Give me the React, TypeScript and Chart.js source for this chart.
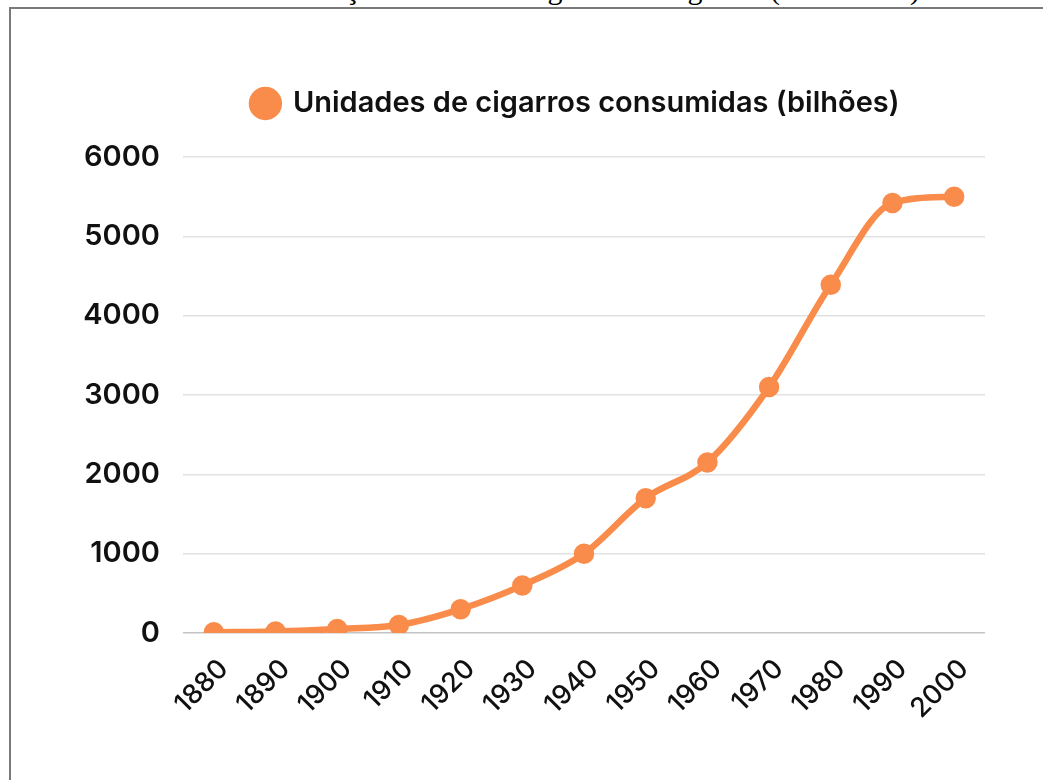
import React, { useEffect, useRef } from "react";
import { Chart, registerables } from "chart.js";

Chart.register(...registerables);

const titleText = "Evolução do consumo global de cigarros (1880-2000)";
const seriesLabel = "Unidades de cigarros consumidas (bilhões)";
const years = ["1880", "1890", "1900", "1910", "1920", "1930", "1940", "1950", "1960", "1970", "1980", "1990", "2000"];
const consumption = [10, 20, 50, 100, 300, 600, 1000, 1700, 2150, 3100, 4390, 5420, 5500];
const yTicks = [0, 1000, 2000, 3000, 4000, 5000, 6000];

const ORANGE = "#FA8C4B";
const TEXT = "#111111";
const FONT = "Inter";

const legendSpacer = {
  id: "legendSpacer",
  beforeInit(chart: any) {
    const legend = chart.legend;
    if (!legend) return;
    const origFit = legend.fit;
    legend.fit = function () {
      origFit.call(this);
      this.height = 78;
    };
  },
  beforeDraw(chart: any) {
    const legend = chart.legend;
    if (!legend) return;
    legend.left = 167;
    legend.right = 985;
  },
};

export default function App() {
  const ref = useRef<HTMLCanvasElement | null>(null);

  useEffect(() => {
    if (!ref.current) return;
    const chart = new Chart(ref.current, {
      type: "line",
      data: {
        labels: years,
        datasets: [
          {
            label: seriesLabel,
            data: consumption,
            borderColor: ORANGE,
            backgroundColor: ORANGE,
            pointBackgroundColor: ORANGE,
            pointBorderColor: ORANGE,
            borderWidth: 6.5,
            pointRadius: 7,
            tension: 0.4,
            cubicInterpolationMode: "monotone",
            fill: false,
          },
        ],
      },
      options: {
        animation: false,
        responsive: false,
        maintainAspectRatio: false,
        layout: { padding: { top: 79, left: 0, right: 58, bottom: 0 } },
        plugins: {
          legend: {
            display: true,
            position: "top",
            labels: {
              usePointStyle: true,
              pointStyle: "circle",
              boxHeight: 19,
              boxWidth: 26,
              color: TEXT,
              padding: 10,
              font: { family: FONT, size: 29, weight: "600" },
            },
          },
          tooltip: { enabled: false },
        },
        scales: {
          x: {
            offset: true,
            grid: { display: false, drawTicks: false },
            border: { display: false },
            afterFit(scale: any) {
              scale.height = 147;
            },
            ticks: {
              minRotation: 45,
              maxRotation: 45,
              padding: 20,
              labelOffset: 10,
              color: TEXT,
              font: { family: FONT, size: 27, weight: "500" },
            },
          },
          y: {
            min: 0,
            max: 6000,
            afterFit(scale: any) {
              scale.width = 183;
            },
            afterBuildTicks(scale: any) {
              scale.ticks = yTicks.map((v) => ({ value: v }));
            },
            grid: {
              color: (ctx: any) => (ctx.tick && ctx.tick.value === 0 ? "#c4c4c4" : "#e2e2e2"),
              lineWidth: 1.5,
              drawTicks: false,
            },
            border: { display: false },
            ticks: {
              padding: 23,
              color: TEXT,
              font: { family: FONT, size: 29, weight: "600" },
              callback: (v: any) => String(v),
            },
          },
        },
      },
      plugins: [legendSpacer],
    });
    return () => chart.destroy();
  }, []);

  return (
    <div style={{ position: "fixed", left: 0, top: 0, width: 1043, height: 780, overflow: "hidden", background: "#fff" }}>
      <div
        style={{
          position: "absolute",
          right: 123,
          top: -26,
          whiteSpace: "nowrap",
          fontFamily: "'Liberation Serif', 'Times New Roman', serif",
          fontSize: 30,
          lineHeight: "30px",
          color: "#000",
        }}
      >
        {titleText}
      </div>
      <div
        style={{
          position: "absolute",
          left: 9,
          top: 7,
          width: 2000,
          height: 2000,
          borderTop: "2px solid #7a7a7a",
          borderLeft: "2px solid #7a7a7a",
        }}
      />
      <canvas ref={ref} width={1043} height={780} style={{ position: "absolute", left: 0, top: 0 }} />
    </div>
  );
}
